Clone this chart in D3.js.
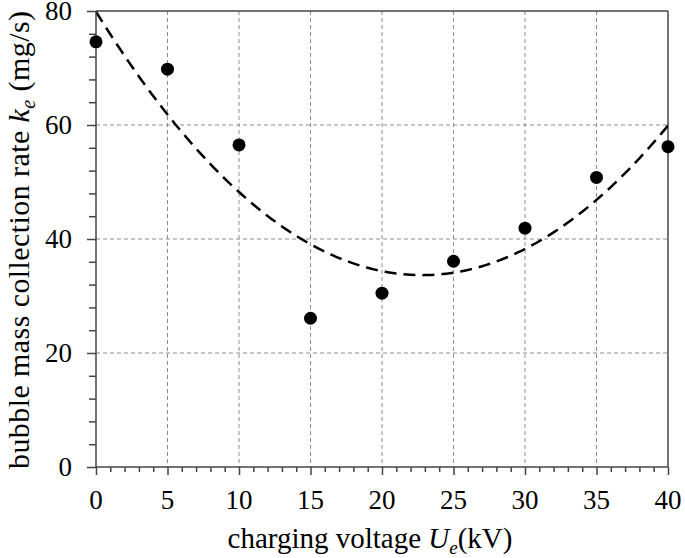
<!DOCTYPE html>
<html>
<head>
<meta charset="utf-8">
<script src="https://cdn.jsdelivr.net/npm/d3@7"></script>
<style>
  html, body { margin: 0; padding: 0; background: #fff; }
</style>
</head>
<body>
<svg id="chart" width="685" height="558"></svg>
<script>
// ---- data ----
const voltage = [0, 5, 10, 15, 20, 25, 30, 35, 40];          // kV
const collectionRate = [74.6, 69.8, 56.5, 26.1, 30.5, 36.1, 41.9, 50.8, 56.2]; // mg/s
const xTicks = [0, 5, 10, 15, 20, 25, 30, 35, 40];
const yTicks = [0, 20, 40, 60, 80];

// ---- layout ----
const FONT = '"Liberation Serif"';
const L = 96, R = 668, T = 11, B = 467;
const svg = d3.select("#chart");

const x = d3.scaleLinear().domain([0, 40]).range([L, R]);
const y = d3.scaleLinear().domain([0, 80]).range([B, T]);

// grid
const grid = svg.append("g");
grid.selectAll("line.vg").data(xTicks.filter(d => d > 0 && d < 40)).enter().append("line")
  .attr("x1", d => x(d)).attr("x2", d => x(d)).attr("y1", T).attr("y2", B)
  .attr("stroke", "#8c8c8c").attr("stroke-width", 1).attr("stroke-dasharray", "4,3");
grid.selectAll("line.hg").data(yTicks.filter(d => d > 0 && d < 80)).enter().append("line")
  .attr("x1", L).attr("x2", R).attr("y1", d => y(d)).attr("y2", d => y(d))
  .attr("stroke", "#8c8c8c").attr("stroke-width", 1).attr("stroke-dasharray", "4,3");

// frame top/right
svg.append("line").attr("x1", L).attr("x2", R).attr("y1", T).attr("y2", T)
  .attr("stroke", "#444").attr("stroke-width", 1.5);
svg.append("line").attr("x1", R).attr("x2", R).attr("y1", T).attr("y2", B)
  .attr("stroke", "#444").attr("stroke-width", 1.5);

// trend line: least-squares quadratic fit of the data
function polyfit2(xs, ys) {
  const n = xs.length;
  let s = [0,0,0,0,0], t = [0,0,0];
  for (let i = 0; i < n; i++) {
    for (let k = 0; k < 5; k++) s[k] += Math.pow(xs[i], k);
    for (let k = 0; k < 3; k++) t[k] += ys[i] * Math.pow(xs[i], k);
  }
  const M = [[s[0], s[1], s[2], t[0]], [s[1], s[2], s[3], t[1]], [s[2], s[3], s[4], t[2]]];
  for (let i = 0; i < 3; i++) {
    for (let j = i + 1; j < 3; j++) {
      const f = M[j][i] / M[i][i];
      for (let k = i; k < 4; k++) M[j][k] -= f * M[i][k];
    }
  }
  const c = [0,0,0];
  for (let i = 2; i >= 0; i--) {
    let v = M[i][3];
    for (let k = i + 1; k < 3; k++) v -= M[i][k] * c[k];
    c[i] = v / M[i][i];
  }
  return c;
}
const coef = polyfit2(voltage, collectionRate);
const fitX = d3.range(0, 40.01, 0.25);
svg.append("clipPath").attr("id", "clip").append("rect")
  .attr("x", L).attr("y", T).attr("width", R - L).attr("height", B - T);
svg.append("path")
  .datum(fitX)
  .attr("clip-path", "url(#clip)")
  .attr("fill", "none").attr("stroke", "#000").attr("stroke-width", 2.5)
  .attr("stroke-dasharray", "12,7")
  .attr("d", d3.line().x(d => x(d)).y(d => y(coef[0] + coef[1] * d + coef[2] * d * d)));

// axes
const xAxis = svg.append("g").attr("transform", `translate(0,${B})`);
xAxis.call(d3.axisBottom(x).tickValues(d3.range(0, 41, 1)).tickSize(5).tickFormat(""));
xAxis.call(g => g.selectAll(".tick").filter(d => d % 5 === 0).select("line").attr("y2", 8));
xAxis.selectAll("line, path").attr("stroke", "#444").attr("stroke-width", 1.5);
xAxis.select(".domain").attr("d", `M${L},0H${R}`);

const yAxis = svg.append("g").attr("transform", `translate(${L},0)`);
yAxis.call(d3.axisLeft(y).tickValues(d3.range(0, 81, 4)).tickSize(7).tickFormat(""));
yAxis.call(g => g.selectAll(".tick").filter(d => d % 20 === 0).select("line").attr("x2", -9));
yAxis.selectAll("line, path").attr("stroke", "#444").attr("stroke-width", 1.5);
yAxis.select(".domain").attr("d", `M0,${B}V${T}`);

// tick labels
const labels = svg.append("g");
xTicks.forEach(d => {
  labels.append("text").style("font-family", FONT).attr("fill", "#000")
    .attr("x", x(d)).attr("y", 509)
    .attr("text-anchor", "middle").attr("font-size", 27)
    .text(d);
});
yTicks.forEach(d => {
  labels.append("text").style("font-family", FONT).attr("fill", "#000")
    .attr("x", 72).attr("y", y(d) + 9)
    .attr("text-anchor", "end").attr("font-size", 27)
    .text(d);
});

// points
svg.append("g").selectAll("circle").data(voltage).enter().append("circle")
  .attr("cx", d => x(d)).attr("cy", (d, i) => y(collectionRate[i]))
  .attr("r", 6.5).attr("fill", "#000");

// axis titles
const xt = svg.append("text").attr("x", 370).attr("y", 548)
  .style("font-family", FONT).attr("fill", "#000")
  .attr("text-anchor", "middle").attr("font-size", 29);
xt.append("tspan").text("charging voltage ");
xt.append("tspan").attr("font-style", "italic").text("U");
xt.append("tspan").attr("font-style", "italic").attr("font-size", 19).attr("dy", 6).text("e");
xt.append("tspan").attr("dy", -6).text("(kV)");

const yt = svg.append("text").attr("transform", "translate(29,240) rotate(-90)")
  .style("font-family", FONT).attr("fill", "#000")
  .attr("text-anchor", "middle").attr("font-size", 30)
  .attr("textLength", 458).attr("lengthAdjust", "spacing");
yt.append("tspan").text("bubble mass collection rate ");
yt.append("tspan").attr("font-style", "italic").text("k");
yt.append("tspan").attr("font-style", "italic").attr("font-size", 20).attr("dy", 6).text("e");
yt.append("tspan").attr("dy", -6).text(" (mg/s)");
</script>
</body>
</html>
